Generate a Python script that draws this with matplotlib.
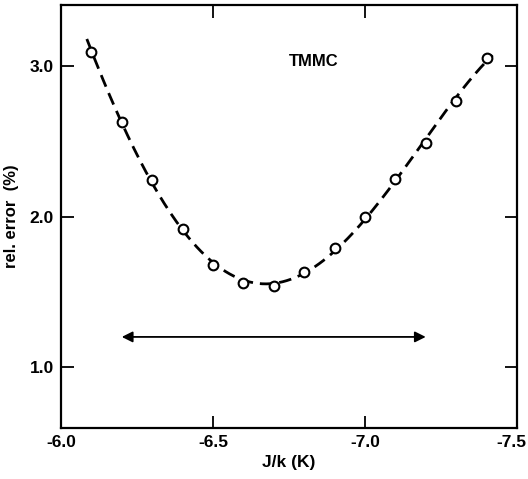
import numpy as np
import matplotlib.pyplot as plt
from matplotlib.transforms import ScaledTranslation

# coupling constant J/k (K) and relative error (%)
jk = [-6.1, -6.2, -6.3, -6.4, -6.5, -6.6, -6.7, -6.8, -6.9, -7.0, -7.1, -7.2, -7.3, -7.4]
rel_err = [3.09, 2.63, 2.24, 1.92, 1.68, 1.555, 1.54, 1.63, 1.79, 2.0, 2.25, 2.49, 2.77, 3.05]

# range marked by the double arrow
arrow_range = [-6.2, -7.2]
arrow_level = 1.2

xticks = [-6.0, -6.5, -7.0, -7.5]
yticks = [1.0, 2.0, 3.0]

plt.rcParams['font.family'] = ['Liberation Sans', 'DejaVu Sans']
plt.rcParams['font.weight'] = 'bold'

fig = plt.figure(figsize=(5.28, 4.79), dpi=100)
ax = fig.add_axes([0.1155, 0.1065, 0.8635, 0.883])

# smooth fitted curve through the measured points
coef = np.polyfit(jk, rel_err, 4)
xs = np.linspace(jk[0] + 0.015, jk[-1] - 0.02, 200)
ax.plot(xs, np.polyval(coef, xs), color='black', lw=2.0, ls=(0, (4.5, 2.5)), zorder=2)
ax.plot(jk, rel_err, 'o', ms=7, mfc='white', mec='black', mew=1.5, zorder=3)

ax.annotate('', xy=(arrow_range[1], arrow_level), xytext=(arrow_range[0], arrow_level),
            arrowprops=dict(arrowstyle='<|-|>', color='black', lw=1.3,
                            mutation_scale=16, shrinkA=0, shrinkB=0))

ax.text(-6.75, 3.03, 'TMMC', fontsize=12, fontweight='bold', va='center', ha='left')

ax.set_xlim(-6.0, -7.5)
ax.set_ylim(0.595, 3.405)
ax.set_xticks(xticks)
ax.set_xticklabels(['-6.0', '-6.5', '-7.0', '-7.5'])
ax.set_yticks(yticks)
ax.set_yticklabels(['1.0', '2.0', '3.0'])
ax.tick_params(direction='in', length=9, width=1.3, labelsize=12.5,
               top=True, right=True, pad=5)
for s in ax.spines.values():
    s.set_linewidth(1.6)

# keep the last x label inside the figure
last = ax.get_xticklabels()[-1]
last.set_transform(last.get_transform() + ScaledTranslation(-6 / 100, 0, fig.dpi_scale_trans))

ax.set_xlabel('J/k (K)', fontsize=12.5, fontweight='bold', labelpad=4)
ax.set_ylabel('rel. error  (%)', fontsize=12, fontweight='bold', labelpad=8)

fig.savefig('out.png', dpi=100)
